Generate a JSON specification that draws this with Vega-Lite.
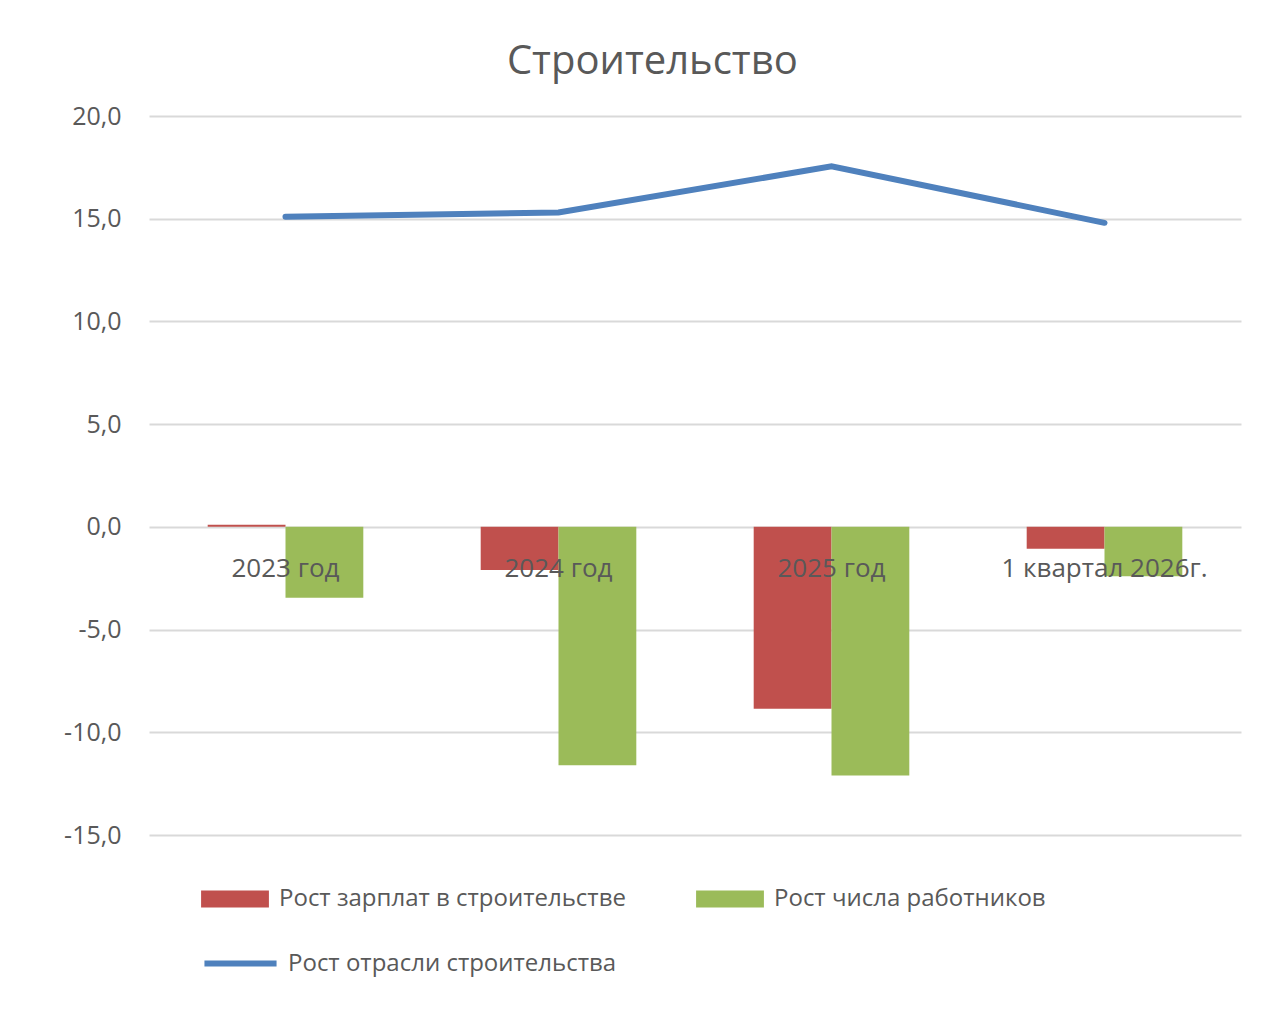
{
  "$schema": "https://vega.github.io/schema/vega-lite/v6.json",
  "width": 1092,
  "height": 719,
  "padding": {"left": 63, "top": 42, "right": 25, "bottom": 20},
  "background": "white",
  "title": {"text": "Строительство", "fontSize": 40, "fontWeight": "normal", "color": "#595959", "font": "Open Sans", "offset": 22, "frame": "bounds", "anchor": "middle"},
  "config": {
    "view": {"stroke": null},
    "locale": {"number": {"decimal": ",", "thousands": " ", "grouping": [3], "currency": ["", ""], "minus": "-"}},
    "font": "Open Sans"
  },
  "data": {
    "values": [
      {"cat": "2023 год", "series": "Рост зарплат в строительстве", "kind": "bar", "value": 0.1},
      {"cat": "2024 год", "series": "Рост зарплат в строительстве", "kind": "bar", "value": -2.1},
      {"cat": "2025 год", "series": "Рост зарплат в строительстве", "kind": "bar", "value": -8.85},
      {"cat": "1 квартал 2026г.", "series": "Рост зарплат в строительстве", "kind": "bar", "value": -1.07},
      {"cat": "2023 год", "series": "Рост числа работников", "kind": "bar", "value": -3.45},
      {"cat": "2024 год", "series": "Рост числа работников", "kind": "bar", "value": -11.6},
      {"cat": "2025 год", "series": "Рост числа работников", "kind": "bar", "value": -12.1},
      {"cat": "1 квартал 2026г.", "series": "Рост числа работников", "kind": "bar", "value": -2.4},
      {"cat": "2023 год", "series": "Рост отрасли строительства", "kind": "line", "value": 15.1},
      {"cat": "2024 год", "series": "Рост отрасли строительства", "kind": "line", "value": 15.3},
      {"cat": "2025 год", "series": "Рост отрасли строительства", "kind": "line", "value": 17.55},
      {"cat": "1 квартал 2026г.", "series": "Рост отрасли строительства", "kind": "line", "value": 14.8}
    ]
  },
  "encoding": {
    "x": {
      "field": "cat", "type": "nominal", "sort": null, "title": null,
      "scale": {"paddingInner": 0.43, "paddingOuter": 0.215},
      "axis": null
    }
  },
  "layer": [
    {
      "transform": [{"filter": "datum.kind === 'bar'"}],
      "mark": {"type": "bar"},
      "encoding": {
        "xOffset": {"field": "series", "type": "nominal", "sort": null},
        "y": {
          "field": "value", "type": "quantitative", "title": null,
          "scale": {"domain": [-15, 20], "nice": false},
          "axis": {"values": [-15, -10, -5, 0, 5, 10, 15, 20], "format": ".1f", "ticks": false, "domain": false,
                   "gridColor": "#d9d9d9", "gridWidth": 2, "labelFontSize": 25, "labelColor": "#595959", "labelPadding": 28}
        },
        "fill": {
          "field": "series", "type": "nominal", "title": null,
          "scale": {"domain": ["Рост зарплат в строительстве", "Рост числа работников"], "range": ["#C0504D", "#9BBB59"]},
          "legend": {"orient": "none", "legendX": 52, "legendY": 749, "direction": "horizontal", "columns": 2,
                     "columnPadding": 70, "labelFontSize": 24, "labelColor": "#595959", "labelLimit": 0,
                     "symbolType": "M-1,-0.25H1V0.25H-1Z", "symbolSize": 4600, "symbolStrokeWidth": 0, "symbolOpacity": 1, "labelOffset": 10}
        }
      }
    },
    {
      "transform": [{"filter": "datum.kind === 'line'"}],
      "mark": {"type": "line", "strokeWidth": 6, "strokeCap": "round"},
      "encoding": {
        "y": {"field": "value", "type": "quantitative"},
        "stroke": {
          "field": "series", "type": "nominal", "title": null,
          "scale": {"range": ["#4F81BD"]},
          "legend": {"orient": "none", "legendX": 52, "legendY": 808, "labelFontSize": 24, "labelColor": "#595959", "labelLimit": 0,
                     "symbolType": "stroke", "symbolSize": 5200, "symbolStrokeWidth": 6, "labelOffset": 8}
        }
      }
    },
    {
      "transform": [{"filter": "datum.kind === 'line'"}],
      "mark": {"type": "text", "fontSize": 26, "color": "#595959", "dy": 42, "baseline": "middle"},
      "encoding": {
        "y": {"datum": 0},
        "text": {"field": "cat"}
      }
    }
  ]
}
